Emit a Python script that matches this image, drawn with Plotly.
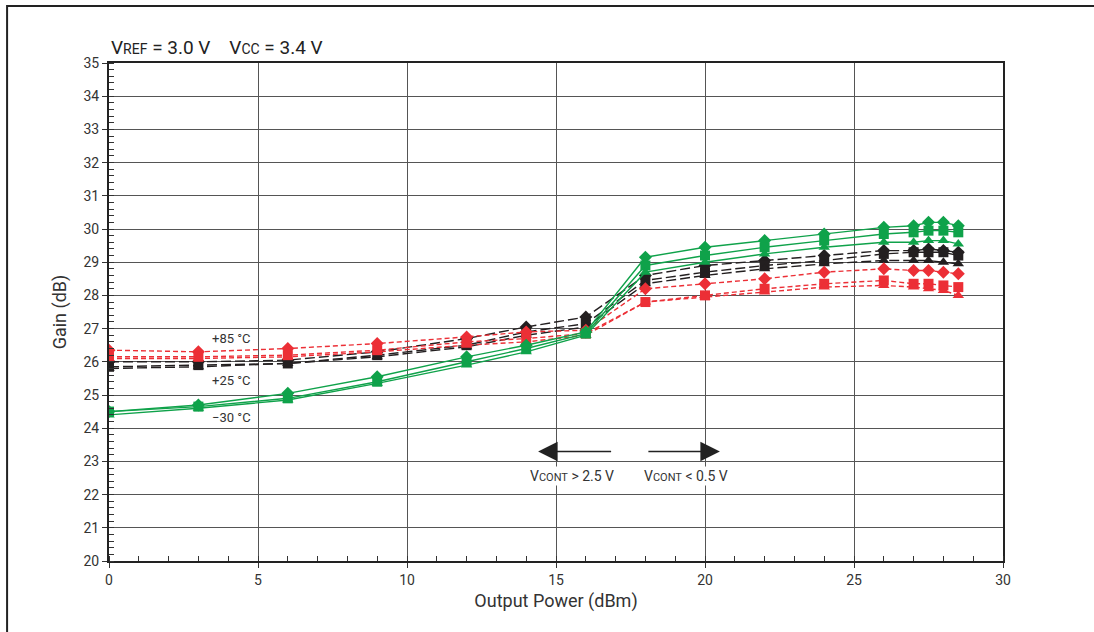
import plotly.graph_objects as go

x = [0, 3, 6, 9, 12, 14, 16, 18, 20, 22, 24, 26, 27, 27.5, 28, 28.5]

# -30 C (green, solid)
g_dia = [24.5, 24.7, 25.05, 25.55, 26.15, 26.5, 26.9, 29.15, 29.45, 29.65, 29.85, 30.05, 30.1, 30.2, 30.2, 30.1]
g_sq = [24.5, 24.65, 24.9, 25.4, 26.0, 26.4, 26.85, 28.9, 29.2, 29.45, 29.65, 29.85, 29.9, 29.95, 29.95, 29.9]
g_tri = [24.4, 24.6, 24.85, 25.35, 25.9, 26.3, 26.8, 28.7, 29.0, 29.25, 29.45, 29.6, 29.6, 29.65, 29.65, 29.55]

# +25 C (black, long dash)
k_dia = [26.0, 26.0, 26.05, 26.3, 26.7, 27.05, 27.35, 28.6, 28.9, 29.05, 29.2, 29.35, 29.35, 29.4, 29.35, 29.3]
k_sq = [25.85, 25.9, 25.95, 26.2, 26.5, 26.9, 27.15, 28.45, 28.7, 28.9, 29.05, 29.25, 29.3, 29.3, 29.3, 29.2]
k_tri = [25.8, 25.85, 25.95, 26.15, 26.45, 26.8, 27.05, 28.35, 28.6, 28.8, 28.95, 29.05, 29.05, 29.05, 29.0, 28.95]

# +85 C (red, short dash)
r_dia = [26.35, 26.3, 26.4, 26.55, 26.75, 26.9, 26.95, 28.2, 28.35, 28.5, 28.7, 28.8, 28.75, 28.75, 28.7, 28.65]
r_sq = [26.15, 26.15, 26.2, 26.35, 26.6, 26.7, 26.85, 27.8, 28.0, 28.2, 28.35, 28.45, 28.35, 28.35, 28.3, 28.25]
r_tri = [26.1, 26.1, 26.15, 26.3, 26.5, 26.6, 26.8, 27.8, 27.95, 28.1, 28.25, 28.3, 28.25, 28.2, 28.15, 28.0]

x_ticks = [0, 5, 10, 15, 20, 25, 30]
y_ticks = list(range(20, 36))

GREEN = "#0fa24a"
BLACK = "#231f20"
RED = "#ec2f36"
FONT = "Liberation Sans Narrow, Roboto, Arial, sans-serif"

fig = go.Figure()

groups = [
    (BLACK, "10px,4px", [(k_dia, "diamond"), (k_sq, "square"), (k_tri, "triangle-up")]),
    (RED, "5px,3px", [(r_dia, "diamond"), (r_sq, "square"), (r_tri, "triangle-up")]),
    (GREEN, "solid", [(g_dia, "diamond"), (g_sq, "square"), (g_tri, "triangle-up")]),
]
for color, dash, series in groups:
    for ys, sym in series:
        fig.add_trace(go.Scatter(
            x=x, y=ys, mode="lines+markers",
            line=dict(color=color, width=1.4, dash=dash),
            marker=dict(symbol=sym, size=10, color=color, line=dict(width=0)),
            showlegend=False, hoverinfo="skip",
        ))

axis_common = dict(
    showline=True, linecolor="#222", linewidth=2, mirror=True,
    gridcolor="#555", gridwidth=1, zeroline=False,
    tickfont=dict(family=FONT, size=14, color="#333"),
    ticks="outside", ticklen=5, tickcolor="#333", tickwidth=1,
)

fig.update_xaxes(
    range=[0, 30], tickvals=x_ticks, **axis_common,
    minor=dict(dtick=1, ticks="inside", ticklen=5, tickcolor="#333", showgrid=False),
    title=dict(text="Output Power (dBm)", font=dict(family=FONT, size=18, color="#333"), standoff=8),
)
fig.update_yaxes(
    range=[20, 35], tickvals=y_ticks, **axis_common,
    minor=dict(dtick=0.2, ticks="inside", ticklen=5, tickcolor="#333", showgrid=False),
    title=dict(text="Gain (dB)", font=dict(family=FONT, size=18, color="#333"), standoff=12),
)

annotations = [
    dict(x=0, y=1.0, xref="paper", yref="paper", xanchor="left", yanchor="bottom", yshift=2,
         text="V<span style='font-size:14px'>REF</span> = 3.0 V&nbsp;&nbsp;&nbsp;&nbsp;V<span style='font-size:14px'>CC</span> = 3.4 V",
         showarrow=False, font=dict(family=FONT, size=19, color="#222")),
    dict(x=4.1, y=26.7, text="+85 °C", showarrow=False, font=dict(family=FONT, size=13, color="#333")),
    dict(x=4.1, y=25.45, text="+25 °C", showarrow=False, font=dict(family=FONT, size=13, color="#333")),
    dict(x=4.1, y=24.32, text="−30 °C", showarrow=False, font=dict(family=FONT, size=13, color="#333")),
    dict(x=15.55, y=22.55, text="V<span style='font-size:11px'>CONT</span> &gt; 2.5 V", showarrow=False,
         bgcolor="white", font=dict(family=FONT, size=14, color="#333")),
    dict(x=19.35, y=22.55, text="V<span style='font-size:11px'>CONT</span> &lt; 0.5 V", showarrow=False,
         bgcolor="white", font=dict(family=FONT, size=14, color="#333")),
    dict(x=14.4, y=23.3, ax=16.9, ay=23.3, xref="x", yref="y", axref="x", ayref="y", text="",
         showarrow=True, arrowhead=2, arrowsize=2.6, arrowwidth=1.5, arrowcolor="#222"),
    dict(x=20.5, y=23.3, ax=18.05, ay=23.3, xref="x", yref="y", axref="x", ayref="y", text="",
         showarrow=True, arrowhead=2, arrowsize=2.6, arrowwidth=1.5, arrowcolor="#222"),
]

fig.update_layout(
    width=1094, height=632,
    margin=dict(l=109, r=91, t=63, b=71),
    paper_bgcolor="white", plot_bgcolor="white",
    annotations=annotations,
    shapes=[dict(type="rect", xref="paper", yref="paper", x0=-0.114, y0=-0.2, x1=1.2, y1=1.1145,
                 line=dict(color="#222", width=2), layer="below")],
)

fig.write_html("out.html", config={"displayModeBar": False},
               post_script="document.body.style.margin='0';document.body.style.padding='0';")
